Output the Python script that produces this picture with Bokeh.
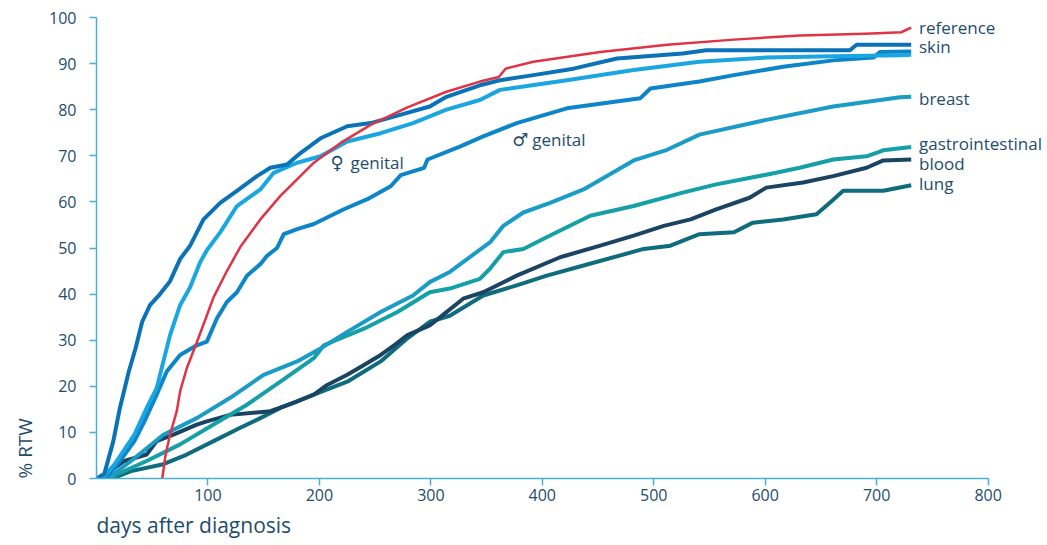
from bokeh.plotting import figure
from bokeh.models import Range1d, FixedTicker, Label, Title
from bokeh.embed import file_html
from bokeh.resources import INLINE

# ---- data (days after diagnosis, % RTW) ----
ref_days = [59, 62, 66, 72, 75, 81, 89, 98, 105, 117, 129, 147, 165, 195, 219, 246, 279, 314, 344, 361, 367, 392, 452, 512, 572, 631, 690, 722, 731]
ref_vals = [0, 5.2, 9.5, 14.6, 18.9, 23.9, 28.9, 34.7, 39.3, 45, 50.2, 56.2, 61.3, 68.5, 72.8, 76.7, 80.5, 83.9, 86.1, 87.1, 88.9, 90.4, 92.5, 94.1, 95.2, 96.1, 96.5, 96.8, 97.8]

skin_days = [0, 7, 15, 21, 29, 35, 41, 48, 57, 66, 75, 84, 96, 111, 126, 144, 156, 171, 183, 201, 225, 246, 270, 299, 314, 344, 362, 392, 428, 467, 526, 547, 676, 682, 731]
skin_vals = [0, 1, 8, 15.3, 23.2, 28.2, 34, 37.6, 40, 42.8, 47.6, 50.5, 56.2, 59.8, 62.4, 65.6, 67.4, 68.1, 70.6, 73.8, 76.4, 77.1, 78.7, 80.7, 82.8, 85.3, 86.4, 87.5, 88.9, 91.1, 92.2, 92.9, 92.9, 94.1, 94.1]

fgen_days = [5, 16, 34, 45, 54, 60, 66, 75, 84, 93, 99, 111, 126, 147, 159, 180, 201, 225, 255, 284, 314, 344, 362, 422, 482, 541, 601, 661, 721, 731]
fgen_vals = [0, 3, 9.5, 15.3, 19.6, 25.4, 31.1, 37.6, 41.5, 46.9, 49.5, 53.4, 59.1, 62.7, 66.3, 68.5, 69.9, 73.1, 74.9, 77.1, 80, 82.1, 84.3, 86.4, 88.6, 90.4, 91.3, 91.6, 91.8, 91.9]

mgen_days = [8, 21, 34, 43, 54, 63, 75, 90, 99, 108, 117, 126, 135, 147, 153, 162, 168, 180, 195, 222, 243, 264, 273, 294, 297, 326, 347, 377, 422, 488, 497, 541, 572, 616, 661, 697, 703, 731]
mgen_vals = [0, 3.8, 8.1, 12.4, 18.2, 23.2, 26.8, 28.9, 29.7, 34.7, 38.3, 40.4, 44, 46.5, 48.3, 50, 53, 54.1, 55.2, 58.4, 60.6, 63.4, 65.8, 67.4, 69.2, 72, 74.2, 77.1, 80.3, 82.5, 84.6, 86.1, 87.5, 89.3, 90.7, 91.3, 92.5, 92.6]

breast_days = [10, 31, 60, 90, 120, 150, 180, 201, 225, 255, 284, 299, 317, 341, 353, 365, 383, 407, 437, 458, 482, 512, 541, 601, 661, 721, 731]
breast_vals = [0, 3.8, 9.5, 13.1, 17.5, 22.5, 25.4, 28.2, 31.8, 36.1, 39.7, 42.6, 44.8, 49.1, 51.2, 54.8, 57.7, 59.8, 62.7, 65.6, 69, 71.3, 74.6, 77.8, 80.7, 82.7, 82.8]

gastro_days = [10, 45, 75, 105, 135, 165, 195, 204, 240, 270, 299, 317, 344, 353, 365, 383, 407, 443, 482, 526, 556, 601, 631, 661, 691, 706, 731]
gastro_vals = [0, 3.8, 7.4, 11.7, 16, 21, 26.1, 28.9, 32.5, 36.1, 40.4, 41.2, 43.3, 45.5, 49.1, 49.8, 52.7, 57, 59.1, 62, 63.8, 65.9, 67.4, 69.2, 69.9, 71.2, 71.9]

blood_days = [3, 25, 45, 54, 69, 90, 99, 120, 156, 180, 195, 207, 225, 240, 255, 267, 279, 299, 314, 329, 347, 377, 416, 452, 482, 509, 533, 556, 586, 601, 634, 661, 691, 706, 731]
blood_vals = [0, 3.8, 5.2, 8.1, 9.5, 11.7, 12.4, 13.8, 14.6, 16.7, 18.2, 20.3, 22.5, 24.6, 26.8, 28.9, 31.1, 33.2, 36.1, 39, 40.4, 44, 48, 50.5, 52.7, 54.8, 56.2, 58.4, 60.9, 63.1, 64.2, 65.6, 67.4, 69, 69.2]

lung_days = [14, 31, 60, 81, 105, 129, 147, 165, 195, 225, 255, 279, 299, 317, 347, 377, 404, 437, 491, 515, 541, 572, 589, 616, 646, 658, 670, 706, 731]
lung_vals = [0, 1.6, 3.1, 5.2, 8.1, 11, 13.1, 15.3, 18.2, 21, 25.4, 30.4, 34, 35.3, 39.7, 41.9, 44, 46.2, 49.8, 50.5, 53, 53.4, 55.5, 56.2, 57.3, 59.8, 62.4, 62.4, 63.6]

x_ticks = [100, 200, 300, 400, 500, 600, 700, 800]
y_ticks = [0, 10, 20, 30, 40, 50, 60, 70, 80, 90, 100]

end_labels = ["reference", "skin", "breast", "gastrointestinal", "blood", "lung"]
end_label_vals = [97.8, 93.8, 82.5, 72.6, 68.3, 64.0]
end_label_day = 738

inner_symbols = ["\u2640", "\u2642"]
inner_labels = ["genital", "genital"]
inner_label_days = [210, 373]
inner_label_vals = [68.5, 73.5]

TEXT = "#1e4d6b"
AXIS = "#4aaed6"
FONT = "Open Sans"

p = figure(width=1046, height=544, output_backend="svg", toolbar_location=None,
           x_range=Range1d(0, 852.4), y_range=Range1d(0, 100),
           min_border_left=95, min_border_right=0, min_border_top=17, min_border_bottom=55)
p.xgrid.visible = False
p.ygrid.visible = False
p.outline_line_color = None
p.background_fill_color = "white"
p.border_fill_color = "white"

for ax in (p.xaxis[0], p.yaxis[0]):
    ax.axis_line_color = AXIS
    ax.axis_line_width = 1.5
    ax.major_tick_line_color = AXIS
    ax.major_tick_line_width = 1.5
    ax.major_tick_in = 0
    ax.major_tick_out = 7
    ax.minor_tick_line_color = None
    ax.major_label_text_color = TEXT
    ax.major_label_text_font = FONT
    ax.major_label_text_font_size = "16px"

p.xaxis.ticker = FixedTicker(ticks=x_ticks)
p.yaxis.ticker = FixedTicker(ticks=y_ticks)
p.xaxis.bounds = (0, 800)
p.xaxis.major_label_standoff = 3
p.yaxis.major_label_standoff = 13

series = [
    (lung_days, lung_vals, "#0e6c7d"),
    (blood_days, blood_vals, "#1a4464"),
    (gastro_days, gastro_vals, "#14a0a6"),
    (breast_days, breast_vals, "#1a9cc6"),
    (mgen_days, mgen_vals, "#0d85c9"),
    (fgen_days, fgen_vals, "#1aa6e0"),
    (skin_days, skin_vals, "#0a72b6"),
]
for d, v, c in series:
    p.line(d, v, line_color=c, line_width=4, line_join="round")
p.line(ref_days, ref_vals, line_color="#e03345", line_width=2.5, line_join="round")

for t, yv in zip(end_labels, end_label_vals):
    p.add_layout(Label(x=end_label_day, y=yv, text=t, text_baseline="middle", text_align="left",
                       text_font=FONT, text_font_size="17px", text_color=TEXT))
for s, t, xv, yv in zip(inner_symbols, inner_labels, inner_label_days, inner_label_vals):
    p.add_layout(Label(x=xv, y=yv, text=s, text_baseline="middle", text_align="left",
                       text_font="DejaVu Sans", text_font_size="18px", text_color=TEXT))
    p.add_layout(Label(x=xv, y=yv, x_offset=20, text=t, text_baseline="middle", text_align="left",
                       text_font=FONT, text_font_size="17px", text_color=TEXT))

xt = Title(text="days after diagnosis", align="left", text_font=FONT, text_font_size="21px",
           text_font_style="normal", text_color=TEXT, standoff=11)
p.add_layout(xt, "below")
yt = Title(text="% RTW", align="left", text_font=FONT, text_font_size="19px",
           text_font_style="normal", text_color=TEXT, standoff=18)
p.add_layout(yt, "left")

open("out.html", "w").write(file_html(p, INLINE))
